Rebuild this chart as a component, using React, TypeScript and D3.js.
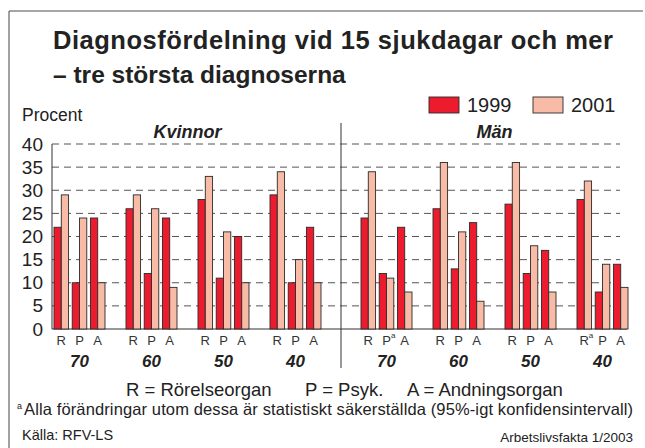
import React from 'react';
import * as d3 from 'd3';

const groups = ['70', '60', '50', '40'];
const diagnoses = ['R', 'P', 'A'];
const years = ['1999', '2001'];
const yTicks = [0, 5, 10, 15, 20, 25, 30, 35, 40];

// values per age group: [R, P, A]
const kvinnor1999 = [[22, 10, 24], [26, 12, 24], [28, 11, 20], [29, 10, 22]];
const kvinnor2001 = [[29, 24, 10], [29, 26, 9], [33, 21, 10], [34, 15, 10]];
const man1999 = [[24, 12, 22], [26, 13, 23], [27, 12, 17], [28, 8, 14]];
const man2001 = [[34, 11, 8], [36, 21, 6], [36, 18, 8], [32, 14, 9]];
// footnote "a" marks: [group, diagnosis]
const manMarks = [['70', 'P'], ['40', 'R']];
const keyLabels = ['R = Rörelseorgan', 'P = Psyk.', 'A = Andningsorgan'];

const colors = { '1999': '#ec1c2e', '2001': '#f8bba6' };
const font = '"Liberation Sans", Arial, Helvetica, sans-serif';

const y = d3.scaleLinear().domain([0, 40]).range([329, 144]);
const xDiag = d3.scaleBand().domain(diagnoses).range([0, 51]).paddingInner(0.2);
const xYear = d3.scaleBand().domain(years).range([0, xDiag.bandwidth()]);

function Panel({ x0, title, v1999, v2001, marks }) {
  const xGroup = d3.scaleBand().domain(groups).range([x0, x0 + 267]).paddingInner(21 / 72);
  const data = { '1999': v1999, '2001': v2001 };
  const center = (xGroup(groups[0]) + xGroup(groups[3]) + xGroup.bandwidth()) / 2;
  return (
    <g>
      <text x={center} y={138} textAnchor="middle" fontSize={18} fontWeight="bold" fontStyle="italic" fill="#222">{title}</text>
      {groups.map((g, gi) => (
        <g key={g} transform={`translate(${xGroup(g)},0)`}>
          {diagnoses.map((d, di) => (
            <g key={d} transform={`translate(${xDiag(d)},0)`}>
              {years.map(yr => {
                const v = data[yr][gi][di];
                return (
                  <rect key={yr} x={xYear(yr)} y={y(v)} width={xYear.bandwidth()} height={y(0) - y(v)}
                    fill={colors[yr]} stroke="#2a2a2a" strokeWidth={0.9} />
                );
              })}
              <text x={xDiag.bandwidth() / 2} y={345} textAnchor="middle" fontSize={13} fill="#333">{d}</text>
              {marks.some(m => m[0] === g && m[1] === d) && (
                <text x={xDiag.bandwidth() / 2 + 4.5} y={338} fontSize={8} fill="#333">a</text>
              )}
            </g>
          ))}
          <text x={xGroup.bandwidth() / 2} y={367} textAnchor="middle" fontSize={17} fontWeight="bold" fontStyle="italic" fill="#222">{g}</text>
        </g>
      ))}
    </g>
  );
}

export default function App() {
  const keyX = [126, 305, 407];
  return (
    <svg width={645} height={448} style={{ display: 'block', position: 'absolute', left: 0, top: 0 }} fontFamily={font}>
      <rect x={0} y={0} width={645} height={448} fill="#fff" />
      <line x1={9} x2={643} y1={11} y2={11} stroke="#888" strokeWidth={1.5} />
      <line x1={9} x2={9} y1={11} y2={448} stroke="#444" strokeWidth={1} />

      <text x={53} y={49} fontSize={25.5} fontWeight="bold" fill="#222" textLength={560} lengthAdjust="spacing">Diagnosfördelning vid 15 sjukdagar och mer</text>
      <text x={53} y={83} fontSize={24.5} fontWeight="bold" fill="#222">– tre största diagnoserna</text>

      {years.map((yr, i) => (
        <g key={yr} transform={`translate(${429 + i * 104},97)`}>
          <rect x={0} y={0} width={30} height={16} fill={colors[yr]} stroke="#2a2a2a" strokeWidth={0.9} />
          <text x={38} y={15} fontSize={20} fill="#222">{yr}</text>
        </g>
      ))}

      <text x={22} y={121} fontSize={17.5} fill="#222">Procent</text>

      {yTicks.map(t => (
        <g key={t}>
          <text x={43} y={y(t) + 6.5} textAnchor="end" fontSize={19} fill="#222">{t}</text>
          {t > 0 && (
            <line x1={52} x2={620} y1={y(t)} y2={y(t)} stroke="#555" strokeWidth={1} strokeDasharray="7,5" />
          )}
        </g>
      ))}
      <line x1={52} x2={52} y1={y(40)} y2={y(0)} stroke="#333" strokeWidth={1} />
      <line x1={52} x2={627} y1={y(0)} y2={y(0)} stroke="#333" strokeWidth={1.2} />
      <line x1={341} x2={341} y1={123} y2={368} stroke="#333" strokeWidth={1} />

      <Panel x0={54} title="Kvinnor" v1999={kvinnor1999} v2001={kvinnor2001} marks={[]} />
      <Panel x0={361} title="Män" v1999={man1999} v2001={man2001} marks={manMarks} />

      {keyLabels.map((k, i) => (
        <text key={k} x={keyX[i]} y={396} fontSize={18.5} fill="#222">{k}</text>
      ))}
      <text x={17} y={409} fontSize={9} fill="#222">a</text>
      <text x={24} y={415} fontSize={16.5} fill="#222" textLength={609} lengthAdjust="spacing">
        Alla förändringar utom dessa är statistiskt säkerställda (95%-igt konfidensintervall)
      </text>
      <text x={22} y={440} fontSize={14.5} fill="#222">Källa: RFV-LS</text>
      <text x={633} y={442} textAnchor="end" fontSize={13.5} fill="#222">Arbetslivsfakta 1/2003</text>
    </svg>
  );
}
